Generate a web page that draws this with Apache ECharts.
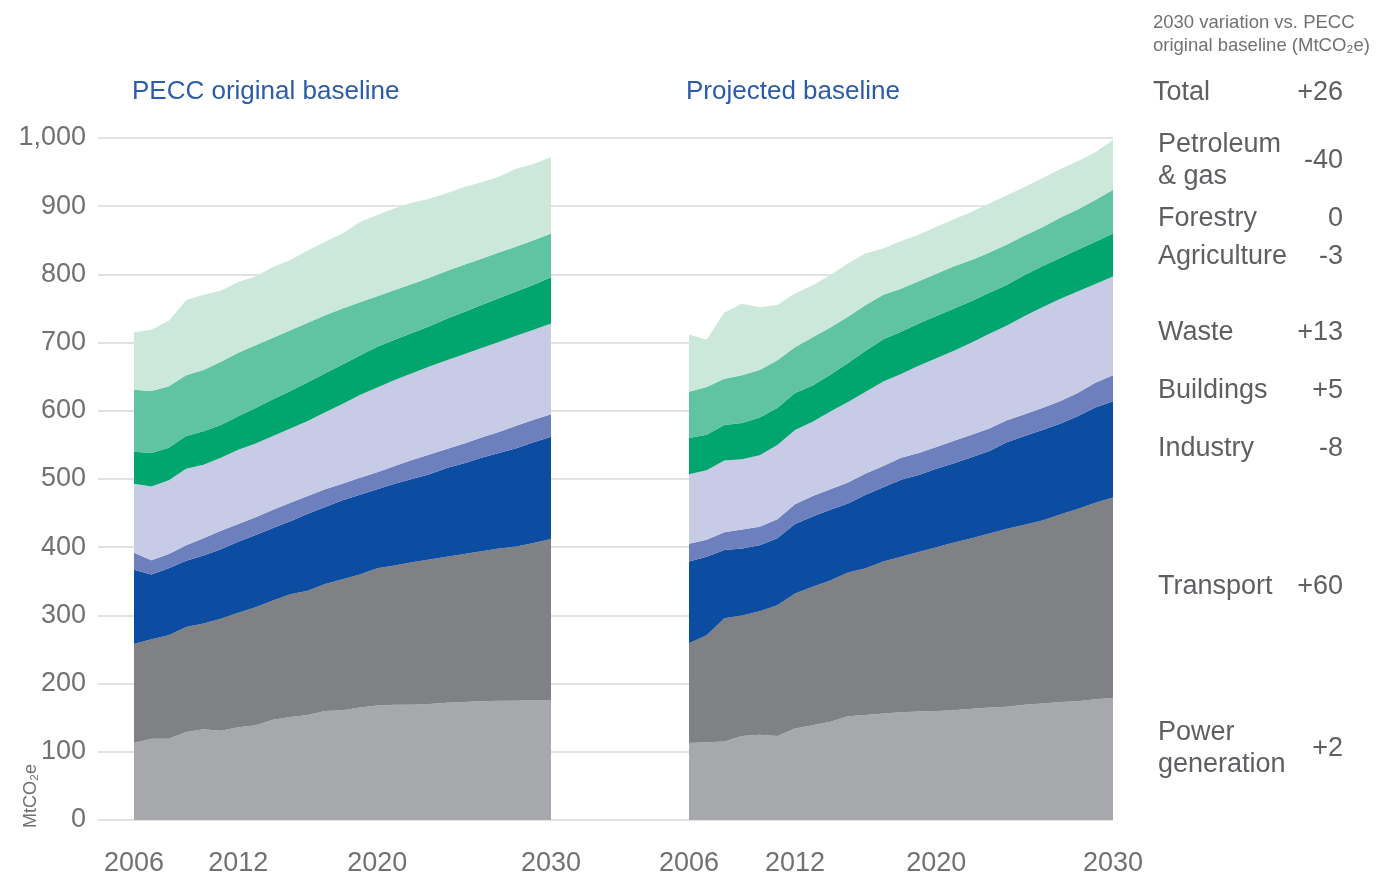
<!DOCTYPE html>
<html>
<head>
<meta charset="utf-8">
<title>PECC baseline</title>
<script src="https://cdn.jsdelivr.net/npm/echarts@6.0.0/dist/echarts.min.js"></script>
<style>
html,body{margin:0;padding:0;background:#fff;}
#main{width:1376px;height:875px;}
</style>
</head>
<body>
<div id="main"></div>
<script>
var years = ['2006','2007','2008','2009','2010','2011','2012','2013','2014','2015','2016','2017','2018',
	'2019','2020','2021','2022','2023','2024','2025','2026','2027','2028','2029','2030'];
var shownYears = ['2006','2012','2020','2030'];
var yTicks = [0,100,200,300,400,500,600,700,800,900,1000];

// PECC original baseline, MtCO2e by sector
var origPower       = [113,119,119,129,133,131,136,139,147,151,154,160,161,165,168,169,169,170,172,173,174,175,175,176,176];
var origTransport   = [145,146,152,154,155,164,168,173,175,180,182,186,192,195,201,204,209,212,214,217,220,223,226,230,236];
var origIndustry    = [109,95,98,97,100,102,104,106,106,107,113,113,116,117,116,120,122,125,130,133,137,140,144,148,150];
var origBuildings   = [25,21,21,23,25,27,26,26,27,27,26,26,24,25,25,26,28,29,28,29,30,31,33,33,33];
var origWaste       = [101,108,108,112,108,107,109,108,108,109,110,113,117,121,124,126,127,129,130,131,131,132,132,132,133];
var origAgriculture = [47,49,48,48,49,48,49,52,54,55,57,57,58,58,60,59,59,59,61,62,63,64,65,66,68];
var origForestry    = [91,91,90,89,90,93,93,92,90,89,87,85,82,78,74,73,72,71,70,69,68,67,66,65,64];
var origPetroleum   = [84,90,96,110,110,104,104,101,104,103,106,108,110,118,119,120,119,116,114,114,112,111,114,112,112];

// Projected baseline
var projPower       = [113,114,115,123,125,123,134,139,144,152,154,156,158,159,160,161,163,165,166,169,171,173,174,177,179];
var projTransport   = [146,157,181,177,181,192,198,203,207,211,215,223,228,234,240,246,250,255,261,264,268,275,282,288,294];
var projIndustry    = [120,115,100,98,97,98,102,103,104,101,108,109,113,113,115,116,119,121,127,130,133,133,136,140,141];
var projBuildings   = [26,25,26,28,27,28,29,30,30,31,31,31,32,32,32,33,33,33,32,32,32,33,34,36,38];
var projWaste       = [102,102,105,103,105,109,109,109,114,118,120,124,123,128,130,132,135,139,139,144,148,150,149,145,145];
var projAgriculture = [53,52,52,53,55,54,54,53,54,57,60,62,62,62,62,62,61,60,60,60,60,60,61,62,63];
var projForestry    = [68,70,68,70,70,70,67,71,69,68,67,65,63,62,62,62,60,59,59,58,57,59,59,61,64];
var projPetroleum   = [84,69,97,105,92,81,79,76,77,78,76,68,70,68,69,69,71,72,72,71,72,71,71,70,73];

// 2030 variation vs. PECC original baseline
var sectorNames  = ['Total','Petroleum\n& gas','Forestry','Agriculture','Waste','Buildings','Industry','Transport','Power\ngeneration'];
var sectorDeltas = ['+26','-40','0','-3','+13','+5','-8','+60','+2'];

var sectorColors = ['#a7a8ac','#808184','#0c4da2','#6e7fbe','#c7cbe6','#00a66e','#60c3a1','#cce8db'];
var FONT = '"Liberation Sans", Arial, sans-serif';
var GREY = '#707174';

function areaSeries(data,stack,idx,color){
	return {
		type:'line',
		stack:stack,
		xAxisIndex:idx,
		yAxisIndex:idx,
		data:data,
		symbol:'none',
		silent:true,
		lineStyle:{width:0,opacity:0},
		areaStyle:{color:color,opacity:1}
	};
}

var origSets = [origPower,origTransport,origIndustry,origBuildings,origWaste,origAgriculture,origForestry,origPetroleum];
var projSets = [projPower,projTransport,projIndustry,projBuildings,projWaste,projAgriculture,projForestry,projPetroleum];
var series = [];
for(var i=0;i<origSets.length;i++){
	series.push(areaSeries(origSets[i],'orig',1,sectorColors[i]));
}
for(var j=0;j<projSets.length;j++){
	series.push(areaSeries(projSets[j],'proj',2,sectorColors[j]));
}

function catAxis(gridIndex){
	return {
		type:'category',
		gridIndex:gridIndex,
		data:years,
		boundaryGap:false,
		axisLine:{show:false},
		axisTick:{show:false},
		splitLine:{show:false},
		axisLabel:{
			margin:30,
			fontFamily:FONT,
			fontSize:27,
			color:GREY,
			interval:function(n,val){ return shownYears.indexOf(val)>=0; }
		}
	};
}
function hiddenY(gridIndex){
	return {type:'value',gridIndex:gridIndex,min:yTicks[0],max:yTicks[yTicks.length-1],show:false};
}

// side labels
var graphics = [
	{type:'text',left:132,top:79,style:{text:'PECC original baseline',font:'26px '+FONT,fill:'#2a5caa'}},
	{type:'text',left:686,top:79,style:{text:'Projected baseline',font:'26px '+FONT,fill:'#2a5caa'}},
	{type:'text',left:1153,top:11,style:{text:'2030 variation vs. PECC\noriginal baseline (MtCO\u2082e)',font:'18.5px '+FONT,fill:GREY,lineHeight:23}},
	{type:'text',x:31,y:796,rotation:Math.PI/2,style:{text:'MtCO\u2082e',font:'18px '+FONT,fill:GREY,align:'center',verticalAlign:'middle'}}
];
var labelY = [93,161,219,257,333,391,449,587,749];
for(var k=0;k<sectorNames.length;k++){
	graphics.push({type:'text',x:k===0?1153:1158,y:labelY[k],
		style:{text:sectorNames[k],font:'27px '+FONT,fill:'#5e5f62',verticalAlign:'middle',lineHeight:32}});
	graphics.push({type:'text',x:1343,y:labelY[k],
		style:{text:sectorDeltas[k],font:'27px '+FONT,fill:'#5e5f62',align:'right',verticalAlign:'middle'}});
}

var chart = echarts.init(document.getElementById('main'),null,{renderer:'canvas'});
chart.setOption({
	animation:false,
	backgroundColor:'#fff',
	grid:[
		{left:98,right:263,top:138,bottom:55,outerBoundsMode:'none'},
		{left:134,width:417,top:138,bottom:55,outerBoundsMode:'none'},
		{left:689,width:424,top:138,bottom:55,outerBoundsMode:'none'}
	],
	xAxis:[
		{type:'value',gridIndex:0,min:0,max:1,show:false},
		catAxis(1),
		catAxis(2)
	],
	yAxis:[
		{
			type:'value',gridIndex:0,min:yTicks[0],max:yTicks[yTicks.length-1],interval:100,
			axisLine:{show:false},axisTick:{show:false},
			splitLine:{lineStyle:{color:'#d9d9d9',width:1.5}},
			axisLabel:{margin:12,fontFamily:FONT,fontSize:27,color:GREY,
				formatter:function(v){ return v>=1000 ? '1,000' : String(v); }}
		},
		hiddenY(1),
		hiddenY(2)
	],
	series:series,
	graphic:graphics
});
</script>
</body>
</html>
